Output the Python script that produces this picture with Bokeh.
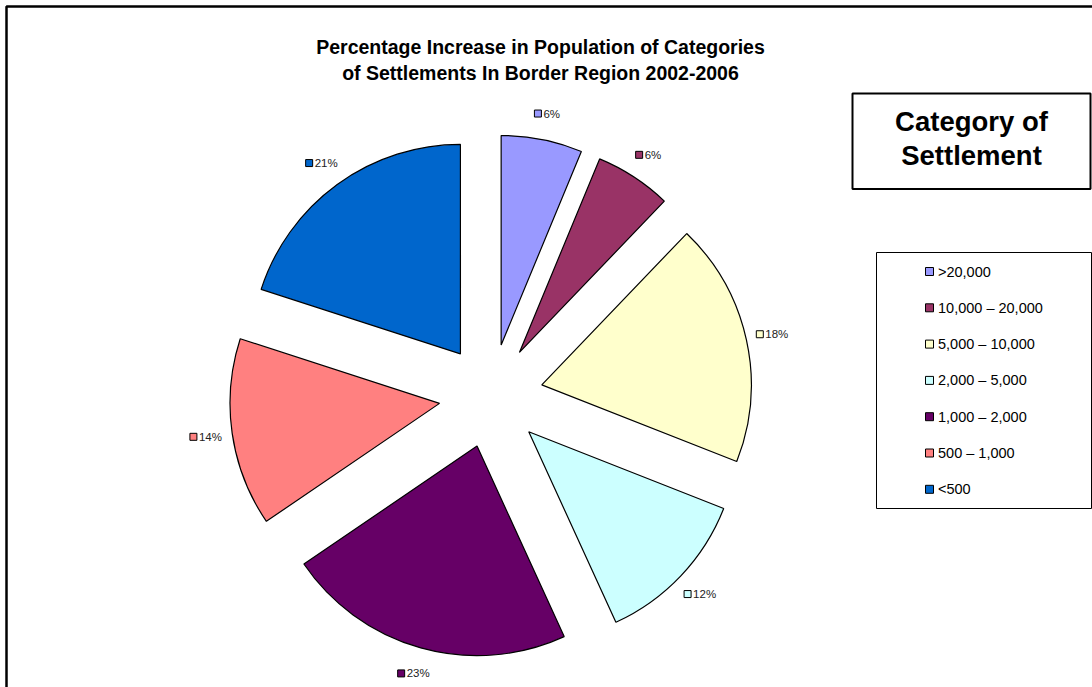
import math
from bokeh.plotting import figure
from bokeh.models import Range1d, ColumnDataSource
from bokeh.core.properties import value
from bokeh.embed import file_html
from bokeh.resources import INLINE

# ---- data ----
categories = [">20,000", "10,000 – 20,000", "5,000 – 10,000", "2,000 – 5,000",
              "1,000 – 2,000", "500 – 1,000", "<500"]
# slice sizes (share of the whole, %)
slice_share = [6.25, 5.9, 18.8, 12.2, 22.3, 14.5, 20.0]
# data labels as printed on the chart
label_text = ["6%", "6%", "18%", "12%", "23%", "14%", "21%"]
colors = ["#9999FF", "#993366", "#FFFFCC", "#CCFFFF", "#660066", "#FF8080", "#0066CC"]
title_lines = ["Percentage Increase in Population of Categories",
               "of Settlements In Border Region 2002-2006"]
legend_title = ["Category of", "Settlement"]

W, H = 1092, 687
FONT = "Liberation Sans"


def Y(sy):
    return H - sy


p = figure(width=W, height=H, x_range=Range1d(0, W), y_range=Range1d(0, H),
           output_backend="svg", toolbar_location=None, min_border=0)
p.axis.visible = False
p.grid.visible = False
p.outline_line_color = None
p.background_fill_color = "white"
p.border_fill_color = "white"

# outer frame
p.quad(left=[6], right=[W + 20], top=[Y(6)], bottom=[Y(H + 20)],
       fill_color=None, line_color="black", line_width=2.5)

# title
p.text(x=[540, 540], y=[Y(46), Y(72)], text=title_lines,
       text_font=value(FONT), text_font_style="bold", text_font_size="19.5px",
       text_align="center", text_baseline="middle", text_color="black")

# ---- pie ----
cx, cy = 490.5, 395.5
explode = 52
r = 209.5
total = sum(slice_share)
xs, ys, sa, ea, mids = [], [], [], [], []
acc = 0
for v in slice_share:
    t0 = 360.0 * acc / total
    acc += v
    t1 = 360.0 * acc / total
    mid = (t0 + t1) / 2
    mids.append(mid)
    m = math.radians(mid)
    xs.append(cx + explode * math.sin(m))
    ys.append(Y(cy) + explode * math.cos(m))
    sa.append(math.radians(90 - t1))
    ea.append(math.radians(90 - t0))

src = ColumnDataSource(dict(x=xs, y=ys, sa=sa, ea=ea, color=colors, cat=categories))
p.wedge(x="x", y="y", radius=r, start_angle="sa", end_angle="ea", direction="anticlock",
        fill_color="color", line_color="black", line_width=1.2, source=src)

# data labels
lab_r = 288
sq_x, sq_y, tx, ty = [], [], [], []
for s, mid in zip(label_text, mids):
    m = math.radians(mid)
    lcx = cx + lab_r * math.sin(m)
    lcy = cy - lab_r * math.cos(m)
    tw = 6.4 * (len(s) - 1) + 10.2
    w = 9 + tw
    left = lcx - w / 2
    sq_x.append(left + 3.5)
    sq_y.append(Y(lcy))
    tx.append(left + 9)
    ty.append(Y(lcy))
p.scatter(x=sq_x, y=sq_y, marker="square", size=7, fill_color=colors,
          line_color="black", line_width=1)
p.text(x=tx, y=ty, text=label_text, text_font=value(FONT), text_font_size="11.5px",
       text_align="left", text_baseline="middle", text_color="#222222")

# legend title box
p.quad(left=[852], right=[1090], top=[Y(93)], bottom=[Y(188.5)],
       fill_color="white", line_color="black", line_width=2)
p.text(x=[971, 971], y=[Y(121), Y(155)], text=legend_title,
       text_font=value(FONT), text_font_style="bold", text_font_size="27.5px",
       text_align="center", text_baseline="middle", text_color="black")

# legend box
p.quad(left=[876], right=[1091], top=[Y(252)], bottom=[Y(508)],
       fill_color="white", line_color="black", line_width=1)
leg_y = [Y(271 + i * 36.3) for i in range(len(categories))]
p.scatter(x=[929] * len(categories), y=leg_y, marker="square", size=8,
          fill_color=colors, line_color="black", line_width=1)
p.text(x=[937.5] * len(categories), y=leg_y, text=categories,
       text_font=value(FONT), text_font_size="14.5px",
       text_align="left", text_baseline="middle", text_color="black")

open("out.html", "w").write(file_html(p, INLINE))
